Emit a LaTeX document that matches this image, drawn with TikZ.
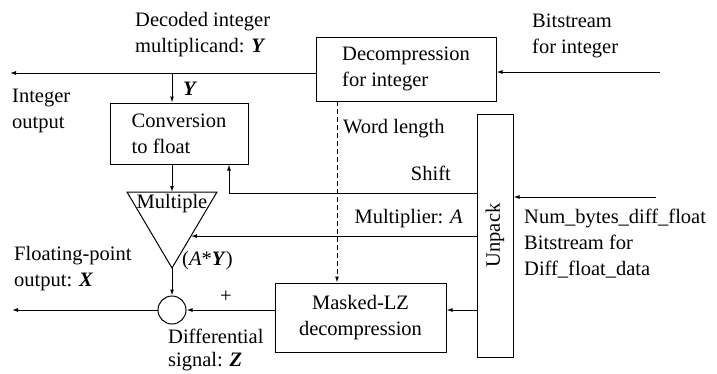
\documentclass[tikz,border=0pt]{standalone}
\usepackage{fontspec}
\setmainfont{Liberation Serif}
\usepackage{graphicx}
\usetikzlibrary{arrows.meta,calc}
\tikzset{
  blk/.style={draw,line width=1pt,inner sep=0pt},
  lbl/.style={inner sep=0pt,align=left,anchor=north west},
  sig/.style={line width=1pt,-{Latex[length=6pt,width=4pt]}},
}
\newcommand{\bY}{\textbf{\textit{Y}}}

\begin{document}
\begin{tikzpicture}[x=1pt,y=-1pt,font=\fontsize{20.5}{26}\selectfont]
\useasboundingbox (0,0) rectangle (717,373);
% blocks
\node[blk,minimum width=180pt,minimum height=64pt,align=left] (decomp) at (406,69) {Decompression\\for integer};
\node[blk,minimum width=138pt,minimum height=61pt,align=left] (conv) at (179,133.5) {Conversion\\to float};
\node[blk,minimum width=171pt,minimum height=69pt,align=center] (lz) at (360.5,317.5) {Masked-LZ\\decompression};
\node[blk,minimum width=36pt,minimum height=243pt] (unpack) at (495,235.5) {\rotatebox{90}{Unpack}};
\node[circle,draw,line width=1pt,minimum size=28pt,inner sep=0pt] (sum) at (172,310) {};
% multiplier
\coordinate (mulL) at (127,192);
\coordinate (mulR) at (217,192);
\coordinate (mulB) at (172,268);
\draw[line width=1pt] (mulL) -- (mulR) -- (mulB) -- cycle;
\node[anchor=base,inner sep=0pt] (mul) at (172,208) {Multiple};
% free ends
\coordinate (intout) at (10,73);
\coordinate (bsin) at (660,72);
\coordinate (ytap) at (172,73);
\coordinate (shiftpt) at (229,193);
\coordinate (mulT) at (172,192);
\coordinate (wlen) at (337,101);
\coordinate (ubin) at (656,197);
\coordinate (fpout) at (12,310);
\path (mulR) -- (mulB) coordinate[pos=0.58] (mulin);
% connectors
\draw[sig] (decomp.west |- intout) -- (intout);
\draw[sig] (bsin) -- (decomp.east |- bsin);
\draw[sig] (ytap) -- (ytap |- conv.north);
\draw[sig] (ytap |- conv.south) -- (mulT);
\draw[sig] (unpack.west |- shiftpt) -- (shiftpt) -- (shiftpt |- conv.south);
\draw[sig] (unpack.west |- mulin) -- (mulin);
\draw[sig] (mulB) -- (sum.north);
\draw[sig] (lz.west |- sum) -- (sum.east);
\draw[sig] (sum.west) -- (fpout);
\draw[sig] (unpack.west |- sum) -- (lz.east |- sum);
\draw[sig] (ubin) -- (unpack.east |- ubin);
\draw[sig,dash pattern=on 5pt off 3pt] (wlen) -- (wlen |- lz.north);
% labels
\node[lbl] (decoded) at (135,7.8) {\strut Decoded integer\\multiplicand: \bY};
\node[lbl] (bitint) at (532,8.8) {\strut Bitstream\\for integer};
\node[lbl] (intlbl) at (12,83.8) {\strut Integer\\output};
\node[anchor=base west,inner sep=0pt] (ylbl) at (183,95) {\bY};
\node[anchor=base west,inner sep=0pt] (wllbl) at (343,133) {Word length};
\node[anchor=base east,inner sep=0pt] (shiftlbl) at (451,180) {Shift};
\node[anchor=base east,inner sep=0pt] (multlbl) at (463,223) {Multiplier: \textit{A}};
\node[anchor=base west,inner sep=0pt] (aylbl) at (182,265) {(\textit{A}*\bY)};
\node[lbl] (fplbl) at (14,241.8) {\strut Floating-point\\output: \textbf{\textit{X}}};
\node[inner sep=0pt] (plus) at (226,297) {+};
\node[lbl,font=\fontsize{20.5}{23}\selectfont] (difflbl) at (168,327) {\strut Differential\\signal: \textbf{\textit{Z}}};
\node[lbl] (bitflt) at (524,204.8) {\strut Num\_bytes\_diff\_float\\Bitstream for\\Diff\_float\_data};
\end{tikzpicture}
\end{document}
